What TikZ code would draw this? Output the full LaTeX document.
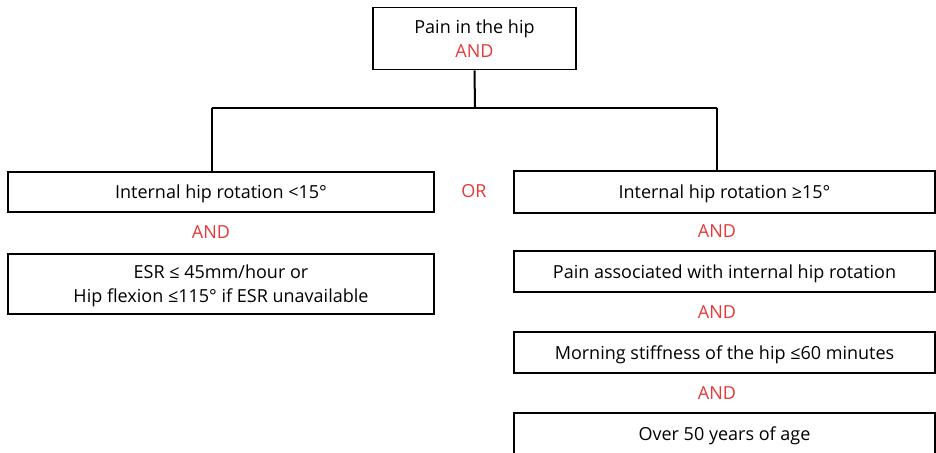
\documentclass[tikz,border=0pt]{standalone}
\usepackage{fontspec}
\setmainfont{Open Sans}
\definecolor{andred}{RGB}{232,56,56}
\tikzset{
  crit/.style={draw, line width=1.6pt, minimum height=41pt, inner sep=0pt, align=center,
    text depth=0pt},
  andlbl/.style={text=andred},
  link/.style={line width=2pt},
}
\begin{document}
\begin{tikzpicture}[x=1pt, y=-1pt, font=\fontsize{18}{24}\selectfont]
  \useasboundingbox (0,0) rectangle (936,452);
  \clip (0,0) rectangle (936,452);

  % top
  \node[crit, minimum width=203pt, minimum height=62pt] (hip) at (474.5,38.5)
    {Pain in the hip\\\textcolor{andred}{AND}};

  % left branch
  \node[crit, minimum width=426pt, minimum height=40pt] (rotlow) at (221,192) {Internal hip rotation <15°};
  \node[andlbl] (andl) at (211,232) {AND};
  \node[crit, minimum width=426pt, minimum height=60pt] (esr) at (221,284)
    {ESR ≤ 45mm/hour or\\Hip flexion ≤115° if ESR unavailable};

  \node[andlbl] (or) at (474,191) {OR};

  % right branch
  \node[crit, minimum width=421pt, minimum height=42pt] (rothigh) at (724.5,192) {Internal hip rotation ≥15°};
  \node[andlbl] (andr1) at (717,231) {AND};
  \node[crit, minimum width=421pt] (painrot) at (724.5,271.5) {Pain associated with internal hip rotation};
  \node[andlbl] (andr2) at (717,312) {AND};
  \node[crit, minimum width=421pt] (stiff) at (724.5,352.5) {Morning stiffness of the hip ≤60 minutes};
  \node[andlbl] (andr3) at (717,393) {AND};
  \node[crit, minimum width=421pt] (age) at (724.5,433.5) {Over 50 years of age};

  % tree lines
  \coordinate (split) at (475,108);
  \coordinate (lbranch) at (212,108);
  \coordinate (rbranch) at (717,108);
  \draw[link] (hip.south) -- (split);
  \draw[link] (lbranch) -- (rbranch);
  \draw[link] (lbranch) -- (lbranch |- rotlow.north);
  \draw[link] (rbranch) -- (rbranch |- rothigh.north);
\end{tikzpicture}
\end{document}
